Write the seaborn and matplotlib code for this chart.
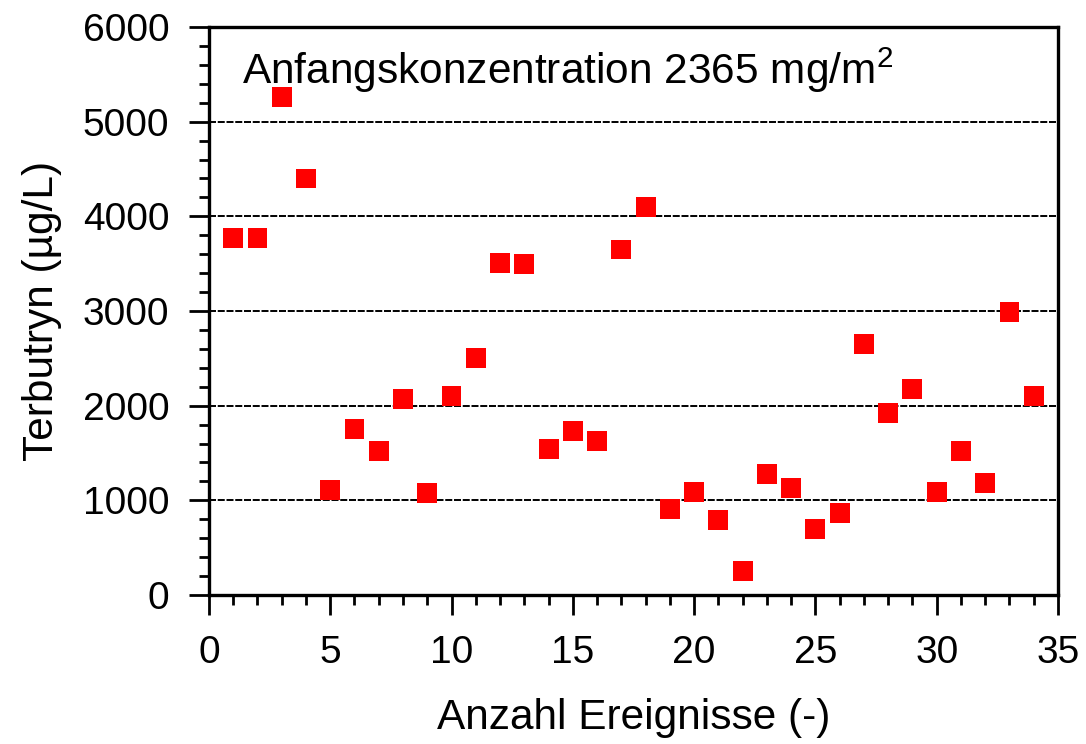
import matplotlib
matplotlib.use("Agg")
import matplotlib.pyplot as plt
import seaborn as sns
import pandas as pd
from matplotlib.ticker import MultipleLocator

events = list(range(1, 35))
terbutryn = [3770, 3770, 5260, 4400, 1110, 1750, 1520, 2070, 1080, 2100,
             2500, 3510, 3500, 1540, 1730, 1630, 3650, 4100, 910, 1090,
             790, 250, 1280, 1130, 700, 870, 2650, 1920, 2180, 1090,
             1520, 1180, 2990, 2100]
x_label = "Anzahl Ereignisse (-)"
y_label = "Terbutryn (µg/L)"
note = "Anfangskonzentration 2365 mg/m$^2$"

sns.set_theme(style="white")
plt.rcParams['font.family'] = ['Liberation Sans', 'DejaVu Sans']
plt.rcParams['mathtext.fontset'] = 'custom'
plt.rcParams['mathtext.rm'] = 'Liberation Sans'
plt.rcParams['mathtext.it'] = 'Liberation Sans'

df = pd.DataFrame({"x": events, "y": terbutryn})

fig = plt.figure(figsize=(10.86, 7.44), dpi=100)
ax = fig.add_axes([0.1924, 0.2003, 0.9742 - 0.1924, 0.9637 - 0.2003])

sns.scatterplot(data=df, x="x", y="y", marker="s", s=205, color="#ff0000",
                edgecolor="none", linewidth=0, ax=ax, zorder=3)

ax.set_xlim(0, 35)
ax.set_ylim(0, 6000)
ax.xaxis.set_major_locator(MultipleLocator(5))
ax.xaxis.set_minor_locator(MultipleLocator(1))
ax.yaxis.set_major_locator(MultipleLocator(1000))
ax.yaxis.set_minor_locator(MultipleLocator(200))

for yv in range(1000, 6000, 1000):
    ax.axhline(yv, color="black", lw=1.4, ls=(0, (3.6, 0.9)), zorder=1)

ax.tick_params(axis="both", which="major", direction="out", length=14.5, width=2,
               labelsize=28, color="black", labelcolor="black",
               bottom=True, left=True, pad=14)
ax.tick_params(axis="both", which="minor", direction="out", length=7.5, width=2,
               color="black", bottom=True, left=True)

for side in ["left", "bottom", "top", "right"]:
    ax.spines[side].set_visible(True)
    ax.spines[side].set_color("black")
    ax.spines[side].set_linewidth(2.4)

ax.set_xlabel(x_label, fontsize=30.5, labelpad=20, color="black")
ax.set_ylabel(y_label, fontsize=30.5, labelpad=15, color="black")

ax.text(0.039, 0.968, note, transform=ax.transAxes, fontsize=30.5,
        va="top", ha="left", color="black")

fig.savefig("out.png", dpi=100, facecolor="white")
